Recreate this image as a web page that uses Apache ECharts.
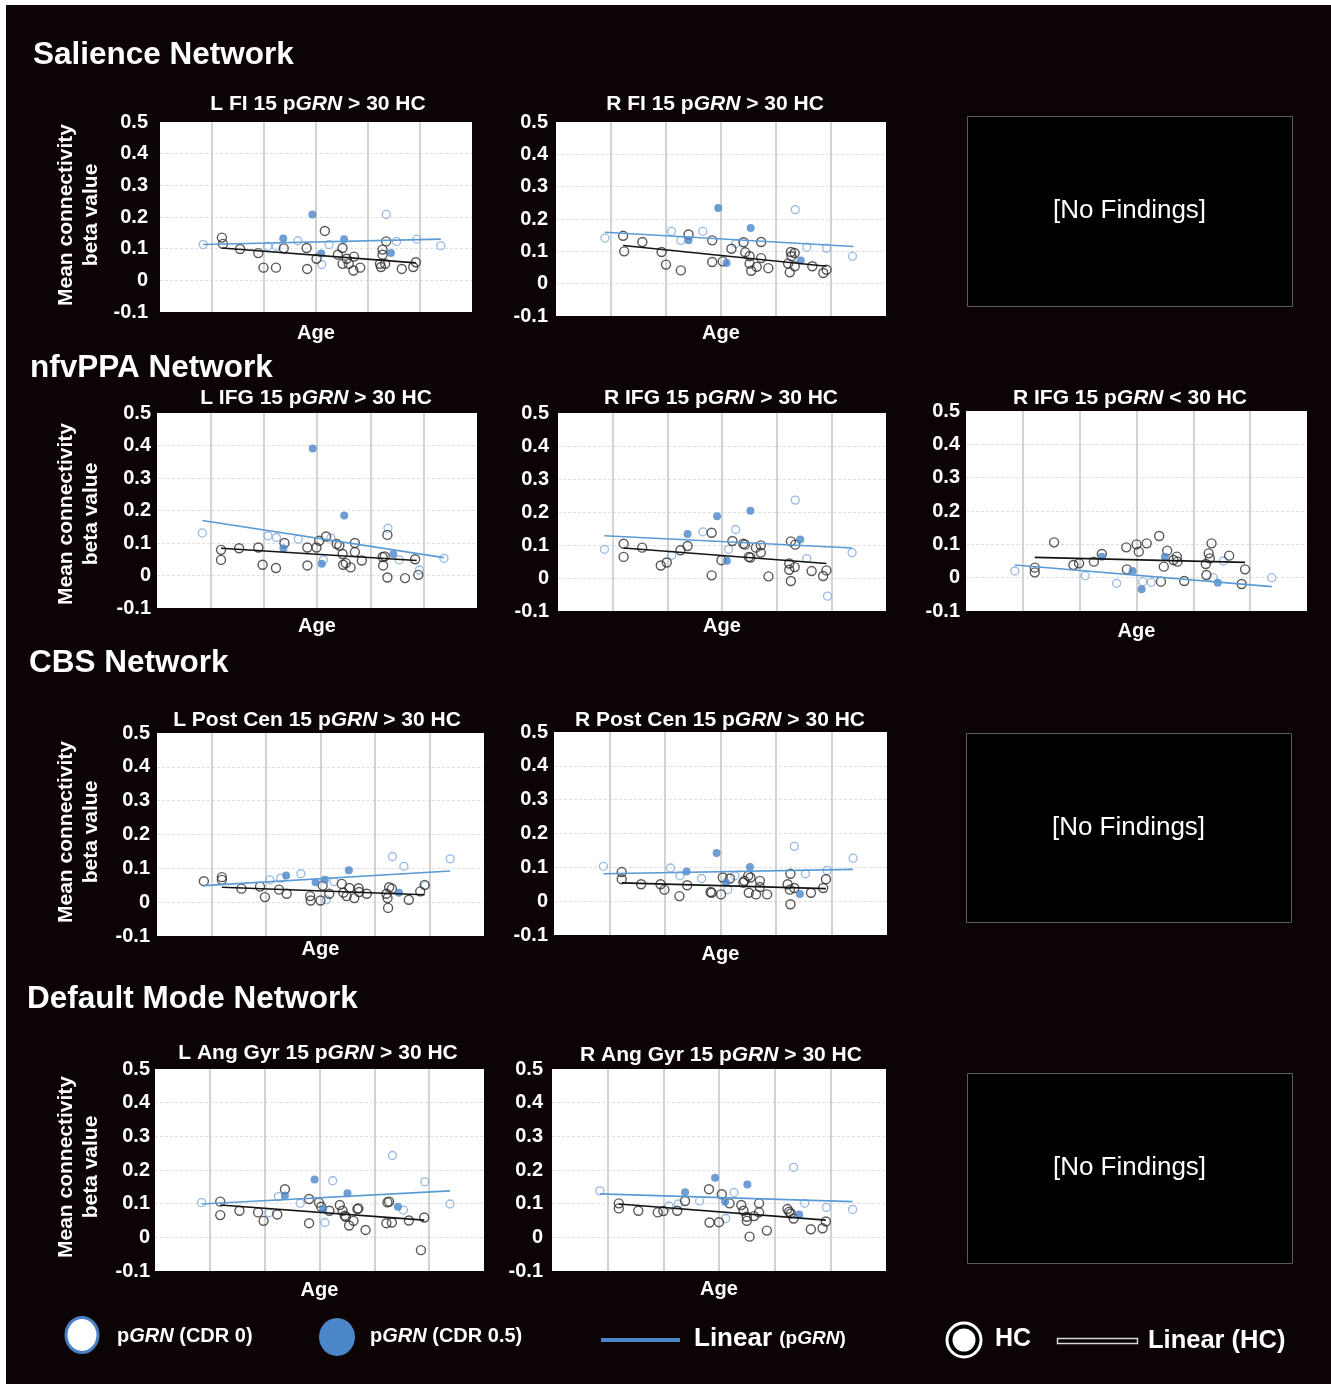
<!DOCTYPE html>
<html>
<head>
<meta charset="utf-8">
<script src="https://cdn.jsdelivr.net/npm/echarts@6/dist/echarts.min.js"></script>
<style>
  html, body { margin: 0; padding: 0; background: #fff; }
  #frame { position: absolute; left: 6px; top: 5px; width: 1325px; height: 1379px; background: #0b0304; }
  #chart { position: absolute; left: 0; top: 0; width: 1331px; height: 1384px; }
</style>
</head>
<body>
<div id="frame"></div>
<div id="chart"></div>
<script>
// ---- Data: [age, mean connectivity beta value] ----

// Salience network, left frontoinsula
const lfiHC = [[31.9,0.135],[32.1,0.115],[35.4,0.099],[38.9,0.086],[39.9,0.040],[42.3,0.040],[43.8,0.101],[48.2,0.102],[48.3,0.036],[50.1,0.068],[51.7,0.156],[54.2,0.081],[55.1,0.102],[55.1,0.052],[55.9,0.068],[56.3,0.052],[57.2,0.031],[57.3,0.075],[58.5,0.040],[62.3,0.052],[62.5,0.042],[62.8,0.081],[62.8,0.097],[63.3,0.052],[63.5,0.123],[66.5,0.036],[68.7,0.042],[69.2,0.057]];
const lfiCDR0 = [[28.3,0.113],[40.7,0.107],[42.4,0.107],[46.5,0.125],[51.1,0.050],[52.5,0.113],[63.5,0.208],[65.5,0.123],[69.4,0.130],[74.0,0.109]];
const lfiCDR05 = [[49.3,0.208],[43.7,0.132],[55.4,0.130],[51.0,0.085],[64.4,0.086]];
const lfiFitPGRN = [[28.3,0.113],[74.0,0.130]];
const lfiFitHC = [[31.9,0.102],[69.2,0.055]];

// Salience network, right frontoinsula
const rfiHC = [[32.2,0.148],[32.4,0.100],[35.7,0.129],[39.2,0.098],[40.0,0.059],[42.7,0.041],[44.1,0.152],[48.4,0.134],[48.4,0.067],[50.3,0.069],[51.9,0.108],[54.1,0.128],[54.4,0.097],[55.2,0.085],[55.2,0.062],[55.5,0.040],[56.5,0.052],[57.3,0.129],[57.3,0.079],[58.6,0.048],[62.2,0.062],[62.5,0.035],[62.7,0.098],[62.8,0.085],[63.4,0.095],[63.4,0.054],[66.6,0.054],[68.6,0.033],[69.2,0.043]];
const rfiCDR0 = [[28.9,0.141],[41.0,0.162],[42.7,0.134],[46.7,0.162],[52.7,0.124],[63.5,0.229],[65.6,0.113],[69.2,0.110],[73.9,0.085]];
const rfiCDR05 = [[49.5,0.234],[55.4,0.172],[44.1,0.134],[51.0,0.064],[64.5,0.072]];
const rfiFitPGRN = [[28.9,0.159],[74.1,0.115]];
const rfiFitHC = [[32.2,0.118],[69.2,0.054]];

// nfvPPA network, left inferior frontal gyrus
const lifgHC = [[32.0,0.079],[32.0,0.048],[35.4,0.084],[39.0,0.086],[39.8,0.033],[42.3,0.023],[43.9,0.100],[48.2,0.086],[48.2,0.031],[49.9,0.086],[50.4,0.107],[51.7,0.120],[53.7,0.097],[54.2,0.092],[54.8,0.066],[54.9,0.033],[55.4,0.038],[56.3,0.025],[57.1,0.100],[57.1,0.072],[58.4,0.046],[62.3,0.057],[62.4,0.031],[62.7,0.059],[63.2,0.125],[63.2,-0.006],[66.5,-0.008],[68.4,0.050],[69.0,0.002]];
const lifgCDR0 = [[28.5,0.131],[40.8,0.122],[42.4,0.117],[46.5,0.112],[51.2,0.048],[52.6,0.115],[63.3,0.146],[65.4,0.048],[69.2,0.017],[73.8,0.053]];
const lifgCDR05 = [[49.2,0.391],[55.1,0.185],[43.7,0.084],[50.9,0.036],[64.3,0.066]];
const lifgFitPGRN = [[28.5,0.169],[73.8,0.055]];
const lifgFitHC = [[32.0,0.084],[68.7,0.046]];

// nfvPPA network, right inferior frontal gyrus (pGRN > HC)
const rifgHC = [[32.0,0.104],[32.0,0.064],[35.4,0.092],[38.8,0.038],[39.9,0.047],[42.4,0.084],[43.7,0.097],[48.1,0.137],[48.1,0.008],[49.9,0.054],[51.9,0.112],[53.9,0.104],[54.2,0.101],[54.9,0.064],[55.2,0.062],[56.2,0.092],[57.1,0.099],[57.1,0.077],[58.5,0.005],[62.3,0.044],[62.3,0.025],[62.6,-0.009],[62.6,0.111],[63.3,0.033],[63.4,0.101],[66.4,0.021],[68.5,0.006],[69.1,0.023]];
const rifgCDR0 = [[28.5,0.087],[40.8,0.069],[46.5,0.140],[51.2,0.087],[52.5,0.147],[63.4,0.236],[65.5,0.059],[69.3,-0.055],[73.8,0.077]];
const rifgCDR05 = [[49.1,0.187],[55.2,0.204],[43.7,0.133],[50.9,0.052],[64.3,0.117]];
const rifgFitPGRN = [[28.5,0.128],[73.8,0.091]];
const rifgFitHC = [[32.0,0.091],[69.1,0.044]];

// nfvPPA network, right inferior frontal gyrus (pGRN < HC)
const rifgLoHC = [[32.1,0.030],[32.1,0.016],[35.5,0.106],[38.9,0.038],[39.9,0.043],[42.5,0.048],[43.9,0.071],[48.2,0.091],[48.3,0.025],[50.0,0.100],[50.4,0.078],[51.8,0.103],[54.0,0.125],[54.3,-0.012],[54.8,0.033],[55.4,0.081],[56.5,0.053],[57.1,0.063],[57.2,0.048],[58.4,-0.010],[62.2,0.041],[62.3,0.008],[62.7,0.073],[62.9,0.058],[63.2,0.103],[66.3,0.066],[68.5,-0.019],[69.1,0.025]];
const rifgLoCDR0 = [[28.6,0.020],[41.0,0.006],[46.5,-0.017],[51.1,-0.012],[52.6,-0.014],[63.5,0.000],[65.3,0.050],[73.8,0.000]];
const rifgLoCDR05 = [[43.9,0.063],[49.3,0.020],[50.9,-0.035],[55.0,0.063],[64.3,-0.015]];
const rifgLoFitPGRN = [[28.6,0.038],[73.8,-0.027]];
const rifgLoFitHC = [[32.1,0.061],[69.1,0.046]];

// CBS network, left postcentral gyrus
const lpcHC = [[28.6,0.062],[31.9,0.074],[31.9,0.066],[35.5,0.040],[38.9,0.046],[39.8,0.015],[42.4,0.037],[43.8,0.025],[48.1,0.018],[48.2,0.005],[50.0,0.005],[50.4,0.049],[51.6,0.025],[53.9,0.054],[54.2,0.028],[54.8,0.018],[55.3,0.042],[56.2,0.012],[57.0,0.041],[57.1,0.030],[58.5,0.025],[62.1,0.025],[62.3,0.012],[62.4,-0.017],[62.6,0.044],[63.1,0.040],[66.2,0.007],[68.3,0.032],[69.1,0.051]];
const lpcCDR0 = [[40.7,0.066],[42.7,0.071],[46.4,0.084],[51.1,0.007],[52.5,0.061],[63.2,0.135],[65.3,0.106],[69.2,0.049],[73.8,0.128]];
const lpcCDR05 = [[43.7,0.079],[49.1,0.059],[50.8,0.066],[55.2,0.094],[64.4,0.028]];
const lpcFitPGRN = [[28.6,0.049],[73.8,0.092]];
const lpcFitHC = [[31.9,0.044],[69.1,0.022]];

// CBS network, right postcentral gyrus
const rpcHC = [[32.2,0.086],[32.2,0.065],[35.7,0.050],[39.2,0.050],[39.9,0.034],[42.6,0.015],[44.0,0.047],[48.2,0.027],[48.4,0.025],[50.1,0.020],[50.4,0.070],[51.7,0.067],[54.1,0.055],[54.3,0.060],[55.0,0.075],[55.1,0.025],[55.4,0.070],[56.4,0.020],[57.1,0.060],[57.1,0.042],[58.4,0.020],[62.1,0.050],[62.5,0.034],[62.6,0.081],[62.6,-0.009],[63.3,0.039],[66.3,0.025],[68.5,0.039],[69.0,0.065]];
const rpcCDR0 = [[28.9,0.103],[41.0,0.098],[42.7,0.075],[46.6,0.067],[51.3,0.034],[52.6,0.075],[63.3,0.162],[65.3,0.081],[69.2,0.091],[73.9,0.127]];
const rpcCDR05 = [[49.3,0.142],[55.3,0.101],[43.9,0.088],[51.0,0.055],[64.3,0.021]];
const rpcFitPGRN = [[28.9,0.081],[73.9,0.094]];
const rpcFitHC = [[32.2,0.054],[69.0,0.037]];

// Default mode network, left angular gyrus
const lagHC = [[31.9,0.106],[31.9,0.066],[35.4,0.079],[38.8,0.074],[39.8,0.049],[42.3,0.068],[43.7,0.143],[48.1,0.114],[48.1,0.042],[49.9,0.103],[50.3,0.091],[51.8,0.079],[53.7,0.096],[54.2,0.079],[54.6,0.064],[54.8,0.061],[55.4,0.035],[56.2,0.049],[56.9,0.084],[57.1,0.086],[58.4,0.022],[62.2,0.042],[62.4,0.104],[62.7,0.106],[63.2,0.044],[66.3,0.050],[68.5,-0.038],[69.1,0.059]];
const lagCDR0 = [[28.5,0.103],[40.8,0.073],[42.5,0.121],[46.5,0.101],[51.0,0.044],[52.4,0.168],[63.3,0.243],[65.3,0.081],[69.2,0.165],[73.8,0.099]];
const lagCDR05 = [[49.1,0.172],[55.1,0.131],[43.7,0.124],[50.7,0.084],[64.3,0.091]];
const lagFitPGRN = [[28.5,0.099],[73.8,0.138]];
const lagFitHC = [[31.9,0.096],[69.1,0.051]];

// Default mode network, right angular gyrus
const ragHC = [[32.0,0.101],[32.0,0.086],[35.5,0.079],[39.0,0.074],[40.0,0.078],[42.5,0.079],[43.9,0.108],[48.2,0.143],[48.3,0.044],[50.0,0.045],[50.5,0.128],[51.9,0.101],[54.0,0.096],[54.4,0.079],[55.0,0.061],[55.0,0.049],[55.5,0.002],[56.3,0.063],[57.2,0.101],[57.2,0.074],[58.6,0.020],[62.3,0.084],[62.6,0.076],[62.9,0.071],[63.4,0.056],[66.5,0.024],[68.6,0.027],[69.2,0.047]];
const ragCDR0 = [[28.6,0.138],[41.0,0.093],[42.7,0.099],[46.5,0.108],[51.2,0.056],[52.7,0.133],[63.4,0.208],[65.4,0.101],[69.3,0.089],[74.0,0.083]];
const ragCDR05 = [[49.3,0.177],[55.1,0.157],[43.9,0.134],[51.1,0.106],[64.4,0.068]];
const ragFitPGRN = [[28.6,0.129],[74.0,0.106]];
const ragFitHC = [[32.0,0.099],[69.2,0.051]];

// Text
const panelTitles = [
  'L FI 15 p{i|GRN} > 30 HC',
  'R FI 15 p{i|GRN} > 30 HC',
  'L IFG 15 p{i|GRN} > 30 HC',
  'R IFG 15 p{i|GRN} > 30 HC',
  'R IFG 15 p{i|GRN} < 30 HC',
  'L Post Cen 15 p{i|GRN} > 30 HC',
  'R Post Cen 15 p{i|GRN} > 30 HC',
  'L Ang Gyr 15 p{i|GRN} > 30 HC',
  'R Ang Gyr 15 p{i|GRN} > 30 HC'
];
const sectionTitles = ['Salience Network', 'nfvPPA Network', 'CBS Network', 'Default Mode Network'];
const yTicks = { min: -0.1, max: 0.5, step: 0.1 };
const xTicks = { min: 20, max: 80, step: 10 };

// ---- Layout ----
const FONT = '"Liberation Sans", Arial, Helvetica, sans-serif';
const C = {
  blueLine: '#5b9bd5', blueFill: '#4a86c8', blueRing: '#7ea8da',
  hcRing: '#2e2e2e', hcLine: '#141414', white: '#ffffff'
};

const panels = [
  { d: [lfiHC, lfiCDR0, lfiCDR05, lfiFitPGRN, lfiFitHC],           box: [160, 122, 312, 190], tc: [318, 104],  gap: 11, m: 12, yName: 215 },
  { d: [rfiHC, rfiCDR0, rfiCDR05, rfiFitPGRN, rfiFitHC],           box: [556, 122, 330, 194], tc: [715, 104],  gap: 7,  m: 8 },
  { d: [lifgHC, lifgCDR0, lifgCDR05, lifgFitPGRN, lifgFitHC],      box: [157, 413, 320, 195], tc: [316, 398],  gap: 8,  m: 6, yName: 514 },
  { d: [rifgHC, rifgCDR0, rifgCDR05, rifgFitPGRN, rifgFitHC],      box: [558, 413, 328, 198], tc: [721, 398],  gap: 5,  m: 9 },
  { d: [rifgLoHC, rifgLoCDR0, rifgLoCDR05, rifgLoFitPGRN, rifgLoFitHC], box: [966, 411, 341, 200], tc: [1130, 398], gap: 10, m: 6 },
  { d: [lpcHC, lpcCDR0, lpcCDR05, lpcFitPGRN, lpcFitHC],           box: [157, 733, 327, 203], tc: [317, 720],  gap: 3,  m: 7, yName: 832 },
  { d: [rpcHC, rpcCDR0, rpcCDR05, rpcFitPGRN, rpcFitHC],           box: [554, 732, 333, 203], tc: [720, 720],  gap: 9,  m: 6 },
  { d: [lagHC, lagCDR0, lagCDR05, lagFitPGRN, lagFitHC],           box: [155, 1069, 329, 202], tc: [318, 1053], gap: 9, m: 5, yName: 1167 },
  { d: [ragHC, ragCDR0, ragCDR05, ragFitPGRN, ragFitHC],           box: [552, 1069, 334, 202], tc: [721, 1055], gap: 8, m: 9 }
];

const grid = [], xAxis = [], yAxis = [], series = [], graphic = [];

panels.forEach((p, i) => {
  const [l, t, w, h] = p.box;
  grid.push({ left: l, top: t, width: w, height: h, show: true, backgroundColor: '#fff', borderWidth: 0 });
  xAxis.push({
    gridIndex: i, type: 'value', min: xTicks.min, max: xTicks.max, interval: xTicks.step,
    name: 'Age', nameLocation: 'middle', nameGap: p.gap,
    nameTextStyle: { color: C.white, fontSize: 20, fontWeight: 'bold', fontFamily: FONT },
    axisLine: { show: false }, axisTick: { show: false }, axisLabel: { show: false },
    splitLine: { show: true, showMinLine: false, showMaxLine: false, lineStyle: { color: '#c4c4c4', width: 1.5 } }
  });
  yAxis.push({
    gridIndex: i, type: 'value', min: yTicks.min, max: yTicks.max, interval: yTicks.step,
    axisLine: { show: false }, axisTick: { show: false },
    axisLabel: { color: C.white, fontSize: 20, fontWeight: 'bold', fontFamily: FONT, margin: p.m },
    splitLine: { show: true, showMinLine: false, showMaxLine: false, lineStyle: { color: '#e0e0e0', width: 1, type: [3, 2] } }
  });
  const [hc, cdr0, cdr05, fitP, fitHC] = p.d;
  series.push(
    { type: 'scatter', name: 'pGRN (CDR 0)', xAxisIndex: i, yAxisIndex: i, data: cdr0, symbol: 'circle', symbolSize: 8,
      itemStyle: { color: 'rgba(255,255,255,0)', borderColor: C.blueRing, borderWidth: 1.3 }, z: 2 },
    { type: 'scatter', name: 'HC', xAxisIndex: i, yAxisIndex: i, data: hc, symbol: 'circle', symbolSize: 9,
      itemStyle: { color: 'rgba(255,255,255,0)', borderColor: C.hcRing, borderWidth: 1.4 }, z: 2 },
    { type: 'scatter', name: 'pGRN (CDR 0.5)', xAxisIndex: i, yAxisIndex: i, data: cdr05, symbol: 'circle', symbolSize: 8,
      itemStyle: { color: C.blueFill, borderWidth: 0 }, z: 2 },
    { type: 'line', name: 'Linear (pGRN)', xAxisIndex: i, yAxisIndex: i, data: fitP, symbol: 'none',
      lineStyle: { color: C.blueLine, width: 1.6 }, z: 3 },
    { type: 'line', name: 'Linear (HC)', xAxisIndex: i, yAxisIndex: i, data: fitHC, symbol: 'none',
      lineStyle: { color: C.hcLine, width: 1.6 }, z: 3 }
  );

  // panel title
  graphic.push({
    type: 'text', x: p.tc[0], y: p.tc[1], silent: true,
    style: {
      text: panelTitles[i], fill: C.white, font: 'bold 21px ' + FONT,
      textAlign: 'center', textVerticalAlign: 'middle',
      rich: { i: { fill: C.white, fontStyle: 'italic', fontWeight: 'bold', fontSize: 21, fontFamily: FONT } }
    }
  });

  // y axis title (left column only)
  if (p.yName) {
    [['Mean connectivity', 66], ['beta value', 91]].forEach(([txt, x]) => {
      graphic.push({
        type: 'text', x: x, y: p.yName, rotation: Math.PI / 2, silent: true,
        style: { text: txt, fill: C.white, font: 'bold 21px ' + FONT, textAlign: 'center', textVerticalAlign: 'middle' }
      });
    });
  }
});

// section headings
[[33, 55], [30, 368], [29, 663], [27, 999]].forEach(([x, y], k) => {
  graphic.push({
    type: 'text', x: x, y: y, silent: true,
    style: { text: sectionTitles[k], fill: C.white, font: 'bold 31.5px ' + FONT, textAlign: 'left', textVerticalAlign: 'middle' }
  });
});

// empty slots
[[967, 116, 325, 190], [966, 733, 325, 189], [967, 1073, 325, 190]].forEach(([x, y, w, h]) => {
  graphic.push({
    type: 'rect', silent: true, shape: { x: x + 0.5, y: y + 0.5, width: w, height: h },
    style: { fill: '#000', stroke: '#5c5c5c', lineWidth: 1 }
  });
  graphic.push({
    type: 'text', x: x + w / 2, y: y + h / 2, silent: true,
    style: { text: '[No Findings]', fill: C.white, font: '26px ' + FONT, textAlign: 'center', textVerticalAlign: 'middle' }
  });
});

// legend
const legendY = 1337;
graphic.push(
  { type: 'ellipse', silent: true, shape: { cx: 82, cy: 1335, rx: 16, ry: 17.5 },
    style: { fill: '#fff', stroke: '#4a7fc4', lineWidth: 3 } },
  { type: 'text', x: 117, y: 1336, silent: true,
    style: { text: 'p{i|GRN} (CDR 0)', fill: C.white, font: 'bold 20px ' + FONT, textAlign: 'left', textVerticalAlign: 'middle',
      rich: { i: { fill: C.white, fontStyle: 'italic', fontWeight: 'bold', fontSize: 20, fontFamily: FONT } } } },
  { type: 'ellipse', silent: true, shape: { cx: 337, cy: legendY, rx: 18, ry: 19 },
    style: { fill: C.blueFill } },
  { type: 'text', x: 370, y: 1336, silent: true,
    style: { text: 'p{i|GRN} (CDR 0.5)', fill: C.white, font: 'bold 20px ' + FONT, textAlign: 'left', textVerticalAlign: 'middle',
      rich: { i: { fill: C.white, fontStyle: 'italic', fontWeight: 'bold', fontSize: 20, fontFamily: FONT } } } },
  { type: 'line', silent: true, shape: { x1: 601, y1: 1340, x2: 680, y2: 1340 },
    style: { stroke: '#4a86c8', lineWidth: 4 } },
  { type: 'text', x: 694, y: 1339, silent: true,
    style: { text: '{l|Linear} {s|(p}{si|GRN}{s|)}', fill: C.white, font: 'bold 26px ' + FONT, textAlign: 'left', textVerticalAlign: 'middle',
      rich: {
        l: { fill: C.white, fontWeight: 'bold', fontSize: 26, fontFamily: FONT },
        s: { fill: C.white, fontWeight: 'bold', fontSize: 19, fontFamily: FONT },
        si: { fill: C.white, fontStyle: 'italic', fontWeight: 'bold', fontSize: 19, fontFamily: FONT }
      } } },
  { type: 'circle', silent: true, shape: { cx: 964, cy: 1340, r: 17 },
    style: { fill: '#000', stroke: '#fff', lineWidth: 3 } },
  { type: 'circle', silent: true, shape: { cx: 964, cy: 1340, r: 11.5 },
    style: { fill: '#fff' } },
  { type: 'text', x: 995, y: 1339, silent: true,
    style: { text: 'HC', fill: C.white, font: 'bold 25px ' + FONT, textAlign: 'left', textVerticalAlign: 'middle' } },
  { type: 'rect', silent: true, shape: { x: 1057.5, y: 1338.5, width: 80, height: 5 },
    style: { fill: '#000', stroke: '#d8d8d8', lineWidth: 1.5 } },
  { type: 'text', x: 1148, y: 1341, silent: true,
    style: { text: 'Linear (HC)', fill: C.white, font: 'bold 25.5px ' + FONT, textAlign: 'left', textVerticalAlign: 'middle' } }
);

const chart = echarts.init(document.getElementById('chart'), null, { renderer: 'canvas' });
chart.setOption({
  backgroundColor: 'transparent',
  animation: false,
  textStyle: { fontFamily: FONT },
  grid, xAxis, yAxis, series, graphic
});
</script>
</body>
</html>
